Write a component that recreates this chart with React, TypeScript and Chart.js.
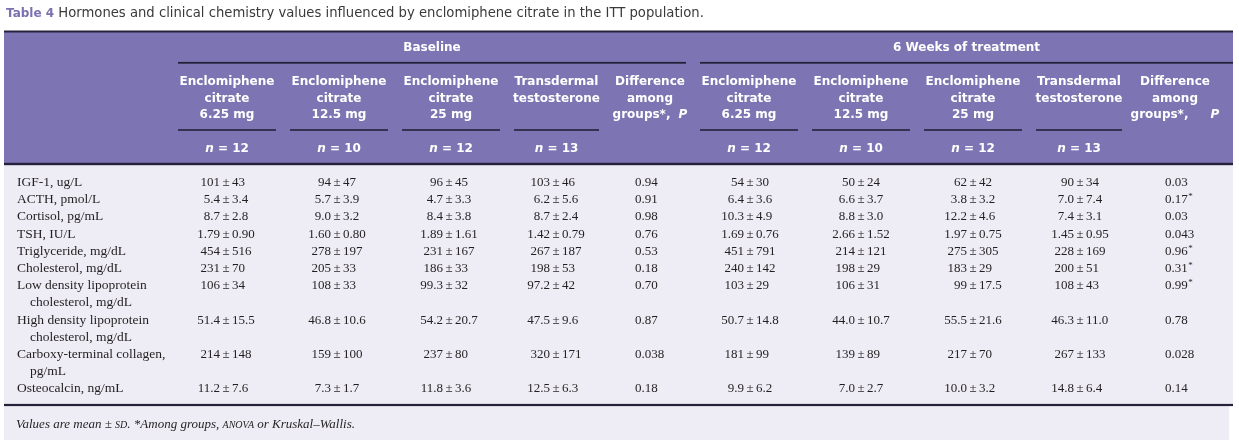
import React, { useEffect, useRef } from "react";
import { Chart, registerables } from "chart.js";

Chart.register(...registerables);

// ---------- content ----------
const titleLead = "Table 4";
const titleText = " Hormones and clinical chemistry values influenced by enclomiphene citrate in the ITT population.";

const groupHeaders = ["Baseline", "6 Weeks of treatment"];

const columnHeaders: string[][] = [
  ["Enclomiphene", "citrate", "6.25 mg"],
  ["Enclomiphene", "citrate", "12.5 mg"],
  ["Enclomiphene", "citrate", "25 mg"],
  ["Transdermal", "testosterone"],
  ["Difference", "among", "groups*, |P"],
  ["Enclomiphene", "citrate", "6.25 mg"],
  ["Enclomiphene", "citrate", "12.5 mg"],
  ["Enclomiphene", "citrate", "25 mg"],
  ["Transdermal", "testosterone"],
  ["Difference", "among", "groups*, |P"],
];

const groupSizes = ["12", "10", "12", "13", "", "12", "10", "12", "13", ""];

const rowLabels: string[][] = [
  ["IGF-1, ug/L"],
  ["ACTH, pmol/L"],
  ["Cortisol, pg/mL"],
  ["TSH, IU/L"],
  ["Triglyceride, mg/dL"],
  ["Cholesterol, mg/dL"],
  ["Low density lipoprotein", "cholesterol, mg/dL"],
  ["High density lipoprotein", "cholesterol, mg/dL"],
  ["Carboxy-terminal collagen,", "pg/mL"],
  ["Osteocalcin, ng/mL"],
];

const baseline625 = ["101 ± 43", "5.4 ± 3.4", "8.7 ± 2.8", "1.79 ± 0.90", "454 ± 516", "231 ± 70", "106 ± 34", "51.4 ± 15.5", "214 ± 148", "11.2 ± 7.6"];
const baseline125 = ["94 ± 47", "5.7 ± 3.9", "9.0 ± 3.2", "1.60 ± 0.80", "278 ± 197", "205 ± 33", "108 ± 33", "46.8 ± 10.6", "159 ± 100", "7.3 ± 1.7"];
const baseline25 = ["96 ± 45", "4.7 ± 3.3", "8.4 ± 3.8", "1.89 ± 1.61", "231 ± 167", "186 ± 33", "99.3 ± 32", "54.2 ± 20.7", "237 ± 80", "11.8 ± 3.6"];
const baselineTT = ["103 ± 46", "6.2 ± 5.6", "8.7 ± 2.4", "1.42 ± 0.79", "267 ± 187", "198 ± 53", "97.2 ± 42", "47.5 ± 9.6", "320 ± 171", "12.5 ± 6.3"];
const baselineP = ["0.94", "0.91", "0.98", "0.76", "0.53", "0.18", "0.70", "0.87", "0.038", "0.18"];
const week6_625 = ["54 ± 30", "6.4 ± 3.6", "10.3 ± 4.9", "1.69 ± 0.76", "451 ± 791", "240 ± 142", "103 ± 29", "50.7 ± 14.8", "181 ± 99", "9.9 ± 6.2"];
const week6_125 = ["50 ± 24", "6.6 ± 3.7", "8.8 ± 3.0", "2.66 ± 1.52", "214 ± 121", "198 ± 29", "106 ± 31", "44.0 ± 10.7", "139 ± 89", "7.0 ± 2.7"];
const week6_25 = ["62 ± 42", "3.8 ± 3.2", "12.2 ± 4.6", "1.97 ± 0.75", "275 ± 305", "183 ± 29", "99 ± 17.5", "55.5 ± 21.6", "217 ± 70", "10.0 ± 3.2"];
const week6_TT = ["90 ± 34", "7.0 ± 7.4", "7.4 ± 3.1", "1.45 ± 0.95", "228 ± 169", "200 ± 51", "108 ± 43", "46.3 ± 11.0", "267 ± 133", "14.8 ± 6.4"];
const week6_P = ["0.03", "0.17*", "0.03", "0.043", "0.96*", "0.31*", "0.99*", "0.78", "0.028", "0.14"];

const footnoteParts: [string, boolean][] = [
  ["Values are mean \u00b1 ", false],
  ["SD", true],
  [". *Among groups, ", false],
  ["ANOVA", true],
  [" or Kruskal\u2013Wallis.", false],
];

const valueColumns = [baseline625, baseline125, baseline25, baselineTT, baselineP, week6_625, week6_125, week6_25, week6_TT, week6_P];
const pColumns = [false, false, false, false, true, false, false, false, false, true];

// ---------- layout (table units, mapped through the chart's scales) ----------
const W = 1239;
const H = 444;
const L = {
  left: 4, right: 1233, bodyRight: 1233, footRight: 1229,
  topRule: 31.5, groupRule: 62.8, colRule: 130, headRule: 164, bodyRule: 405,
  bandTop: 32, bandBottom: 163, bodyTop: 165, bodyBottom: 440,
  titleX: 6, titleY: 17,
  groupY: 51, headY: 85, headPitch: 16.5, nY: 152,
  bodyY: 186, pitch: 17.2, labelX: 17, indent: 13,
  footX: 16, footY: 428,
};
const groupSpans = [[178, 686], [700, 1233]];
const headCenters = [227, 339, 451, 556.5, 650, 749, 861, 973, 1079, 1175];
const headRules: (number[] | null)[] = [[178, 276], [290, 388], [402, 500], [514, 599], null, [700, 798], [812, 910], [924, 1022], [1036, 1122], null];
const pGap = [4, 18];
const cellAnchors = [226, 337, 449, 556, 635, 750, 861, 973, 1080, 1165];

const PURPLE = "#7d75b3";
const BODY_BG = "#eeedf5";
const RULE = "#25213a";
const INK = "#231f20";
const TITLE_PURPLE = "#7a71b0";
const TITLE_INK = "#3a3a3a";
const SANS = '"DejaVu Sans", sans-serif';
const SERIF = '"Liberation Serif", "DejaVu Serif", serif';

// line index of each row (multi-line labels take more lines)
const rowLine: number[] = [];
rowLabels.reduce((acc, lab) => {
  rowLine.push(acc);
  return acc + lab.length;
}, 0);

const tablePlugin = {
  id: "tableDraw",
  beforeDatasetsDraw(chart: any) {
    const { ctx, scales } = chart;
    const X = (v: number) => scales.x.getPixelForValue(v);
    const Y = (v: number) => scales.y.getPixelForValue(v);
    const rect = (x0: number, y0: number, x1: number, y1: number, c: string) => {
      ctx.fillStyle = c;
      ctx.fillRect(X(x0), Y(y0), X(x1) - X(x0), Y(y1) - Y(y0));
    };
    const hline = (x0: number, x1: number, yv: number, w: number, c: string) => {
      ctx.fillStyle = c;
      ctx.fillRect(X(x0), Y(yv) - w / 2, X(x1) - X(x0), w);
    };
    ctx.save();
    rect(0, 0, W, H, "#ffffff");
    rect(L.left, L.bandTop, L.right, L.bandBottom, PURPLE);
    rect(L.left, L.bodyTop, L.bodyRight, L.bodyRule, BODY_BG);
    rect(L.left, L.bodyRule, L.footRight, L.bodyBottom, BODY_BG);
    hline(L.left, L.right, L.topRule, 2, RULE);
    groupSpans.forEach(([a, b]) => hline(a, b, L.groupRule, 1.8, RULE));
    headRules.forEach((r) => { if (r) hline(r[0], r[1], L.colRule, 1.6, RULE); });
    hline(L.left, L.right, L.headRule, 2.4, RULE);
    hline(L.left, L.right, L.bodyRule, 2.2, RULE);

    // title
    ctx.textBaseline = "alphabetic";
    ctx.textAlign = "left";
    ctx.font = `bold 12px ${SANS}`;
    ctx.fillStyle = TITLE_PURPLE;
    ctx.fillText(titleLead, X(L.titleX), Y(L.titleY));
    const lw = ctx.measureText(titleLead).width;
    ctx.font = `13.2px ${SANS}`;
    ctx.fillStyle = TITLE_INK;
    ctx.fillText(titleText, X(L.titleX) + lw, Y(L.titleY));

    // header
    ctx.fillStyle = "#ffffff";
    ctx.textAlign = "center";
    ctx.font = `bold 12px ${SANS}`;
    groupHeaders.forEach((g, i) => {
      const [a, b] = groupSpans[i];
      ctx.fillText(g, X((a + b) / 2), Y(L.groupY));
    });
    columnHeaders.forEach((lines, c) => {
      lines.forEach((t, k) => {
        const yy = Y(L.headY + k * L.headPitch);
        if (t.includes("|")) {
          const [a, b] = t.split("|");
          ctx.font = `bold 12px ${SANS}`;
          const wa = ctx.measureText(a).width;
          ctx.font = `italic bold 12px ${SANS}`;
          const wb = ctx.measureText(b).width;
          const gap = pGap[c < 5 ? 0 : 1];
          const start = X(headCenters[c]) - (wa + gap + wb) / 2;
          ctx.textAlign = "left";
          ctx.font = `bold 12px ${SANS}`;
          ctx.fillText(a, start, yy);
          ctx.font = `italic bold 12px ${SANS}`;
          ctx.fillText(b, start + wa + gap, yy);
          ctx.textAlign = "center";
        } else {
          ctx.font = `bold 12px ${SANS}`;
          ctx.fillText(t, X(headCenters[c]), yy);
        }
      });
      const n = groupSizes[c];
      if (n) {
        ctx.font = `italic bold 12px ${SANS}`;
        const wn = ctx.measureText("n").width;
        ctx.font = `bold 12px ${SANS}`;
        const rest = ` = ${n}`;
        const wr = ctx.measureText(rest).width;
        const start = X(headCenters[c]) - (wn + wr) / 2;
        ctx.textAlign = "left";
        ctx.font = `italic bold 12px ${SANS}`;
        ctx.fillText("n", start, Y(L.nY));
        ctx.font = `bold 12px ${SANS}`;
        ctx.fillText(rest, start + wn, Y(L.nY));
        ctx.textAlign = "center";
      }
    });

    // footnote
    ctx.textAlign = "left";
    ctx.fillStyle = INK;
    let fx = X(L.footX);
    footnoteParts.forEach(([t, small]) => {
      ctx.font = small ? `italic 10px ${SERIF}` : `italic 13px ${SERIF}`;
      ctx.fillText(t, fx, Y(L.footY));
      fx += ctx.measureText(t).width;
    });
    ctx.restore();
  },
  afterDatasetsDraw(chart: any) {
    const { ctx } = chart;
    ctx.save();
    ctx.fillStyle = INK;
    ctx.textBaseline = "alphabetic";
    chart.data.datasets.forEach((ds: any, i: number) => {
      const meta = chart.getDatasetMeta(i);
      meta.data.forEach((pt: any, j: number) => {
        const px = pt.x;
        const py = pt.y;
        if (ds.kind === "label") {
          ctx.font = `13.5px ${SERIF}`;
          ctx.textAlign = "left";
          const lines: string[] = ds.cells[j];
          lines.forEach((t, k) => {
            const dy = chart.scales.y.getPixelForValue(L.bodyY + L.pitch * k) - chart.scales.y.getPixelForValue(L.bodyY);
            ctx.fillText(t, px + (k > 0 ? L.indent : 0), py + dy);
          });
        } else if (ds.kind === "p") {
          const s: string = ds.cells[j];
          const star = s.endsWith("*");
          const num = star ? s.slice(0, -1) : s;
          ctx.font = `13px ${SERIF}`;
          ctx.textAlign = "left";
          ctx.fillText(num, px, py);
          if (star) {
            const w = ctx.measureText(num).width;
            ctx.font = `9px ${SERIF}`;
            ctx.fillText("*", px + w + 0.5, py - 4);
          }
        } else {
          const s: string = ds.cells[j];
          const [a, b] = s.split(" ± ");
          ctx.font = `13px ${SERIF}`;
          const pm = ctx.measureText("±").width;
          const sp = 2.4;
          ctx.textAlign = "right";
          ctx.fillText(a, px - pm / 2 - sp, py);
          ctx.textAlign = "center";
          ctx.fillText("±", px, py);
          ctx.textAlign = "left";
          ctx.fillText(b, px + pm / 2 + sp, py);
        }
      });
    });
    ctx.restore();
  },
};

function buildDatasets() {
  const rowY = rowLabels.map((_, r) => L.bodyY + L.pitch * rowLine[r]);
  const sets: any[] = [
    {
      label: "Parameter",
      kind: "label",
      cells: rowLabels,
      data: rowLabels.map((_, r) => ({ x: L.labelX, y: rowY[r] })),
      pointRadius: 0,
    },
  ];
  valueColumns.forEach((col, c) => {
    sets.push({
      label: `col${c}`,
      kind: pColumns[c] ? "p" : "value",
      cells: col,
      data: col.map((_, r) => ({ x: cellAnchors[c], y: rowY[r] })),
      pointRadius: 0,
    });
  });
  return sets;
}

export default function App() {
  const ref = useRef<HTMLCanvasElement | null>(null);
  useEffect(() => {
    if (!ref.current) return;
    const chart = new Chart(ref.current, {
      type: "scatter",
      data: { datasets: buildDatasets() },
      options: {
        animation: false,
        responsive: false,
        devicePixelRatio: 1,
        events: [],
        layout: { padding: 0 },
        plugins: { legend: { display: false }, tooltip: { enabled: false } },
        scales: {
          x: { type: "linear", min: 0, max: W, display: false },
          y: { type: "linear", min: 0, max: H, reverse: true, display: false },
        },
      },
      plugins: [tablePlugin],
    });
    return () => chart.destroy();
  }, []);
  return (
    <div style={{ position: "absolute", left: 0, top: 0, width: W, height: H, background: "#fff" }}>
      <canvas ref={ref} width={W} height={H} style={{ display: "block" }} />
    </div>
  );
}
